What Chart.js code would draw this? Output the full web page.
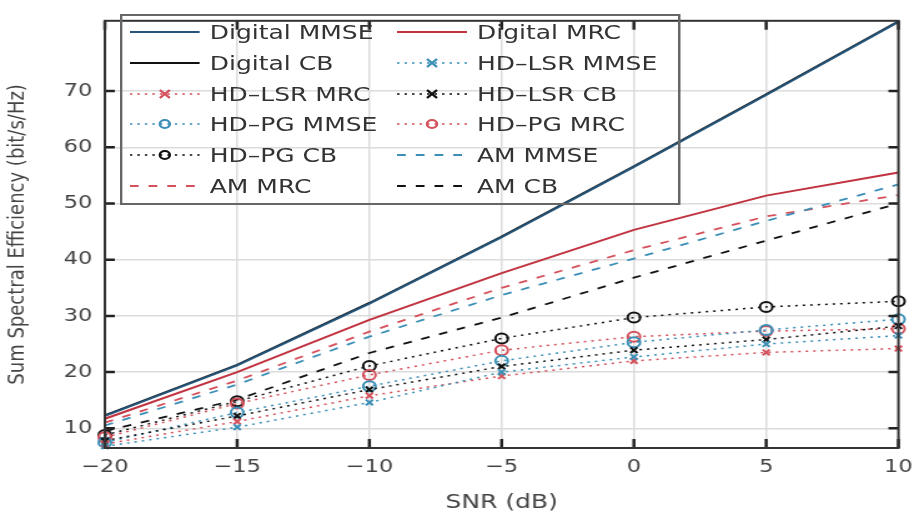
<!DOCTYPE html>
<html>
<head>
<meta charset="utf-8">
<script src="https://cdn.jsdelivr.net/npm/chart.js@4/dist/chart.umd.min.js"></script>
<style>
html,body{margin:0;padding:0;background:#fff;overflow:hidden;}
/* the reference is stretched sideways, so draw narrow and scale the whole thing */
#wrap{position:relative;width:740px;height:520px;transform:scaleX(1.2486);transform-origin:0 0;}
#c{position:absolute;left:0;top:0;}
#legend{position:absolute;left:96px;top:14px;width:449px;height:191px;border:2px solid #666;box-sizing:border-box;}
.item{position:absolute;height:30px;display:flex;align-items:center;font:20px "DejaVu Sans",sans-serif;color:#333;white-space:nowrap;}
.item svg{margin-right:8px;}
</style>
</head>
<body>
<div id="wrap">
  <canvas id="c" width="740" height="520"></canvas>
  <div id="legend"></div>
</div>
<script>
/* values */
const snr = [-20, -15, -10, -5, 0, 5, 10];
const yTicks = [10, 20, 30, 40, 50, 60, 70];

const digitalMMSE = [12.2, 21.2, 32.2, 44.0, 56.5, 69.3, 82.3];
const digitalMRC  = [11.7, 20.0, 29.3, 37.6, 45.3, 51.4, 55.5];
const digitalCB   = [12.3, 21.3, 32.3, 44.1, 56.6, 69.4, 82.4];
const lsrMMSE = [6.8, 10.2, 14.6, 20.0, 22.7, 25.0, 26.5];
const lsrMRC  = [7.2, 11.2, 15.8, 19.3, 22.0, 23.5, 24.2];
const lsrCB   = [7.8, 12.2, 16.9, 21.0, 23.9, 25.8, 28.2];
const pgMMSE  = [7.5, 12.8, 17.5, 22.0, 25.3, 27.5, 29.4];
const pgMRC   = [8.4, 14.4, 19.5, 23.9, 26.3, 27.3, 27.7];
const pgCB    = [8.8, 14.8, 21.1, 26.0, 29.7, 31.6, 32.6];
const amMMSE  = [10.5, 17.8, 26.3, 33.7, 40.2, 46.9, 53.4];
const amMRC   = [11.0, 18.5, 27.2, 35.0, 41.7, 47.7, 51.5];
const amCB    = [9.5, 15.1, 23.4, 29.7, 36.8, 43.4, 50.0];

const names = ["Digital MMSE","Digital MRC","Digital CB","HD–LSR MMSE","HD–LSR MRC","HD–LSR CB",
               "HD–PG MMSE","HD–PG MRC","HD–PG CB","AM MMSE","AM MRC","AM CB"];
const values = [digitalMMSE,digitalMRC,digitalCB,lsrMMSE,lsrMRC,lsrCB,pgMMSE,pgMRC,pgCB,amMMSE,amMRC,amCB];

const BLUE="#24557a", BLUE2="#3b8fb6", RED="#c0323f", RED2="#d4505b", BLACK="#111";
// style per series: colour, kind (solid/dot/dash), marker
const styles = [
  {c:BLUE, k:"solid"}, {c:RED, k:"solid"}, {c:BLACK, k:"solid"},
  {c:BLUE2, k:"dot", m:"x"}, {c:RED2, k:"dot", m:"x"}, {c:BLACK, k:"dot", m:"x"},
  {c:BLUE2, k:"dot", m:"o"}, {c:RED2, k:"dot", m:"o"}, {c:BLACK, k:"dot", m:"o"},
  {c:BLUE2, k:"dash"}, {c:RED2, k:"dash"}, {c:BLACK, k:"dash"}
];
function dashOf(k){ return k==="dot" ? [2,4] : k==="dash" ? [7,8] : []; }
function widthOf(k){ return k==="solid" ? 2 : k==="dash" ? 1.8 : 1.5; }

const datasets = names.map((n,i)=>{
  const s = styles[i];
  return {
    label:n,
    data: snr.map((x,j)=>({x:x, y:values[i][j]})),
    borderColor:s.c, backgroundColor:s.c,
    borderWidth:widthOf(s.k), borderDash:dashOf(s.k),
    pointStyle: s.m==="x" ? "crossRot" : "circle",
    pointRadius: s.m ? (s.m==="x" ? 4 : 5) : 0,
    pointBorderWidth: 2,
    pointBorderColor: s.c,
    pointBackgroundColor: "rgba(255,255,255,0)",
    tension:0, clip:false
  };
});

const minus = v => String(v).replace("-", "\u2212");

// frame with inward ticks on all four sides
const frame = {
  id:"frame",
  afterDraw(chart){
    const {ctx, chartArea:a, scales:{x, y}} = chart;
    ctx.save();
    ctx.strokeStyle="#222"; ctx.lineWidth=2.5;
    ctx.beginPath();
    snr.forEach(v=>{ const px=x.getPixelForValue(v);
      ctx.moveTo(px,a.bottom); ctx.lineTo(px,a.bottom-9);
      ctx.moveTo(px,a.top); ctx.lineTo(px,a.top+9); });
    yTicks.forEach(v=>{ const py=y.getPixelForValue(v);
      ctx.moveTo(a.left,py); ctx.lineTo(a.left+8,py);
      ctx.moveTo(a.right,py); ctx.lineTo(a.right-8,py); });
    ctx.stroke();
    ctx.strokeStyle="#333"; ctx.lineWidth=2;
    ctx.strokeRect(a.left, a.top, a.right-a.left, a.bottom-a.top);
    ctx.restore();
  }
};

new Chart(document.getElementById("c"), {
  type:"line",
  data:{datasets},
  options:{
    responsive:false, animation:false,
    layout:{padding:{top:5, right:13, left:0, bottom:0}},
    plugins:{legend:{display:false}, tooltip:{enabled:false}},
    scales:{
      x:{
        type:"linear", min:-20, max:10,
        ticks:{stepSize:5, padding:9, color:"#444", font:{family:"DejaVu Sans", size:18}, callback:v=>minus(v)},
        grid:{color:"#dcdcdc", lineWidth:1.5, drawTicks:false},
        border:{display:false},
        title:{display:true, text:"SNR (dB)", color:"#444", font:{family:"DejaVu Sans", size:20}, padding:{top:0,bottom:5}},
        afterFit(s){ s.height = 72; }
      },
      y:{
        type:"linear", min:6.5, max:82.5,
        afterBuildTicks(s){ s.ticks = yTicks.map(v=>({value:v})); },
        ticks:{padding:10, color:"#444", font:{family:"DejaVu Sans", size:18}},
        grid:{color:"#dcdcdc", lineWidth:1.5, drawTicks:false},
        border:{display:false},
        title:{display:true, text:"Sum Spectral Efficiency (bit/s/Hz)", color:"#444", font:{family:"DejaVu Sans", size:18}, padding:{top:4,bottom:0}},
        afterFit(s){ s.width = 84; }
      }
    }
  },
  plugins:[frame]
});

// legend: two columns, filled row by row
const leg = document.getElementById("legend");
names.forEach((n,i)=>{
  const s = styles[i], row = Math.floor(i/2), col = i%2;
  const d = document.createElement("div");
  d.className = "item";
  d.style.left = (col ? 220 : 6) + "px";
  d.style.top = (1 + row*30.8) + "px";
  let mk = "";
  if(s.m==="x") mk = `<path d="M24 1 L32 9 M32 1 L24 9" stroke="${s.c}" stroke-width="2"/>`;
  if(s.m==="o") mk = `<circle cx="28" cy="5" r="4" fill="none" stroke="${s.c}" stroke-width="2"/>`;
  const da = dashOf(s.k).join(" ");
  d.innerHTML = `<svg width="56" height="10"><line x1="0" y1="5" x2="56" y2="5" stroke="${s.c}" stroke-width="${widthOf(s.k)}" ${da?`stroke-dasharray="${da}"`:""}/>${mk}</svg><span>${n}</span>`;
  leg.appendChild(d);
});
</script>
</body>
</html>
